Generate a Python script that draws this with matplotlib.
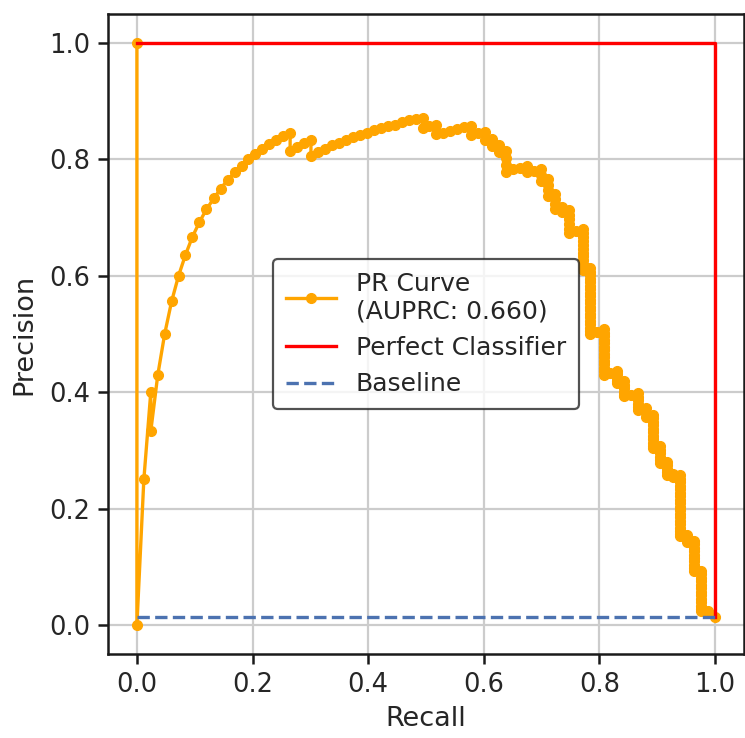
import matplotlib
matplotlib.use("Agg")
import matplotlib.pyplot as plt

# recall levels of the PR curve (one entry per positive found) and the
# precision values observed at each level, top to bottom
recall_levels = [
    0.0, 0.012, 0.024, 0.036, 0.048, 0.060, 0.072, 0.084, 0.096, 0.108,
    0.120, 0.133, 0.145, 0.157, 0.169, 0.181, 0.193, 0.205, 0.217, 0.229,
    0.241, 0.253, 0.265, 0.277, 0.289, 0.301, 0.313, 0.325, 0.337, 0.349,
    0.361, 0.373, 0.386, 0.398, 0.410, 0.422, 0.434, 0.446, 0.458, 0.470,
    0.482, 0.494, 0.506, 0.518, 0.530, 0.542, 0.554, 0.566, 0.578, 0.590,
    0.602, 0.614, 0.627, 0.639, 0.651, 0.663, 0.675, 0.687, 0.699, 0.711,
    0.723, 0.735, 0.747, 0.759, 0.771, 0.783, 0.795, 0.807, 0.819, 0.831,
    0.843, 0.855, 0.867, 0.880, 0.892, 0.904, 0.916, 0.928, 0.940, 0.952,
    0.964, 0.976, 0.988, 1.0,
]
precision_runs = [
    [1.0, 0.0], [0.25], [0.40, 0.333], [0.429], [0.50], [0.556], [0.60],
    [0.636], [0.667], [0.692], [0.714], [0.733], [0.75], [0.765], [0.778],
    [0.789], [0.80], [0.810], [0.818], [0.826], [0.833], [0.840],
    [0.846, 0.815], [0.821], [0.828], [0.833, 0.806], [0.813], [0.818],
    [0.824], [0.829], [0.833], [0.838], [0.842], [0.846], [0.850], [0.854],
    [0.857], [0.860], [0.864], [0.867], [0.870], [0.872, 0.854], [0.857],
    [0.860, 0.843], [0.846], [0.849], [0.852], [0.855], [0.857, 0.842],
    [0.845], [0.847, 0.833], [0.836, 0.823], [0.825, 0.813],
    [0.815, 0.803, 0.791, 0.779], [0.783], [0.786], [0.789, 0.778], [0.781],
    [0.784, 0.773, 0.763], [0.766, 0.756, 0.747, 0.738],
    [0.741, 0.732, 0.723, 0.714], [0.718, 0.709],
    [0.713, 0.705, 0.697, 0.689, 0.681, 0.674], [0.677],
    [0.681, 0.674, 0.667, 0.660, 0.653, 0.646, 0.640, 0.634, 0.627, 0.621,
     0.615, 0.610],
    [0.613, 0.607, 0.601, 0.595, 0.589, 0.583, 0.577, 0.571, 0.565, 0.559,
     0.553, 0.547, 0.541, 0.535, 0.529, 0.523, 0.517, 0.511, 0.505, 0.500],
    [0.504],
    [0.508, 0.502, 0.496, 0.490, 0.484, 0.478, 0.472, 0.466, 0.460, 0.454,
     0.448, 0.442, 0.436, 0.430],
    [0.433],
    [0.437, 0.431, 0.425, 0.420, 0.416],
    [0.419, 0.413, 0.407, 0.401, 0.396, 0.393],
    [0.396],
    [0.398, 0.392, 0.386, 0.380, 0.375, 0.370],
    [0.372, 0.365, 0.358],
    [0.361, 0.355, 0.349, 0.343, 0.337, 0.331, 0.325, 0.319, 0.313, 0.308,
     0.304],
    [0.307, 0.301, 0.295, 0.289, 0.283, 0.278],
    [0.280, 0.274, 0.268, 0.263, 0.258],
    [0.260, 0.255],
    [0.257, 0.251, 0.245, 0.239, 0.233, 0.227, 0.221, 0.215, 0.209, 0.203,
     0.197, 0.191, 0.185, 0.179, 0.173, 0.167, 0.161, 0.156, 0.152],
    [0.154, 0.148, 0.143],
    [0.145, 0.139, 0.133, 0.127, 0.121, 0.115, 0.109, 0.103, 0.097, 0.092],
    [0.093, 0.087, 0.081, 0.075, 0.069, 0.063, 0.057, 0.051, 0.045, 0.039,
     0.033, 0.028, 0.024],
    [0.024],
    [0.0143],
]
auprc = 0.660
baseline = 0.0143          # share of positives
perfect_recall = [0.0, 1.0, 1.0]
perfect_precision = [1.0, 1.0, baseline]
tick_values = [0.0, 0.2, 0.4, 0.6, 0.8, 1.0]

recall, precision = [], []
for r, run in zip(recall_levels, precision_runs):
    recall += [r] * len(run)
    precision += run

plt.rcParams.update({"font.family": "DejaVu Sans", "axes.linewidth": 1.8})

fig = plt.figure(figsize=(7.45, 7.38), dpi=100)
ax = fig.add_axes([108 / 745, 84 / 738, 636 / 745, 640 / 738])

ax.plot(recall, precision, color="orange", lw=2.4, marker="o", ms=7,
        label=f"PR Curve\n(AUPRC: {auprc:.3f})", zorder=3)
ax.plot(perfect_recall, perfect_precision, color="red", lw=2.4,
        label="Perfect Classifier", zorder=3)
ax.plot([0, 1], [baseline, baseline], "--", color="#4C72B0", lw=2.4,
        label="Baseline", zorder=3)

ax.set_xlim(-0.05, 1.05)
ax.set_ylim(-0.05, 1.05)
ax.set_xticks(tick_values)
ax.set_yticks(tick_values)
ax.grid(True, color="#cccccc", lw=1.6, zorder=0)
ax.set_axisbelow(True)
for s in ax.spines.values():
    s.set_color("0.1")
ax.tick_params(direction="out", length=7, width=1.8, labelsize=18.5,
               color="0.1", labelcolor="0.15", pad=6)
ax.set_xlabel("Recall", fontsize=19.5, color="0.15", labelpad=6)
ax.set_ylabel("Precision", fontsize=19.5, color="0.15", labelpad=8)

leg = ax.legend(loc="center", fontsize=18, edgecolor="0.15",
                framealpha=0.8, borderpad=0.5, handlelength=2.0)
leg.get_frame().set_linewidth(1.6)
for t in leg.get_texts():
    t.set_color("0.15")

fig.savefig("out.png", dpi=100)
